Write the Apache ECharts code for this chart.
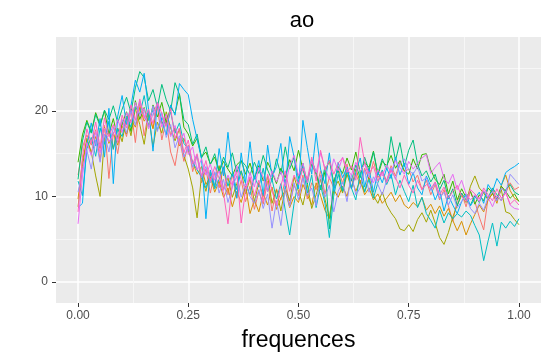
<!DOCTYPE html>
<html lang="en">
<head>
    <meta charset="UTF-8">
    <script type="text/javascript" src="https://cdn.jsdelivr.net/npm/echarts@6/dist/echarts.min.js"></script>
    <title>ao</title>
    <style type="text/css">
        html, body { margin: 0; padding: 0; background: #fff; }
        #chart { width: 549px; height: 359px; }
    </style>
</head>
<body>
    <div id="chart"></div>
    <script type="text/javascript">
        // frequence grid (shared by every curve)
        let freqs = [
            0.00, 0.01, 0.02, 0.03, 0.04, 0.05, 0.06, 0.07, 0.08, 0.09,
            0.10, 0.11, 0.12, 0.13, 0.14, 0.15, 0.16, 0.17, 0.18, 0.19,
            0.20, 0.21, 0.22, 0.23, 0.24, 0.25, 0.26, 0.27, 0.28, 0.29,
            0.30, 0.31, 0.32, 0.33, 0.34, 0.35, 0.36, 0.37, 0.38, 0.39,
            0.40, 0.41, 0.42, 0.43, 0.44, 0.45, 0.46, 0.47, 0.48, 0.49,
            0.50, 0.51, 0.52, 0.53, 0.54, 0.55, 0.56, 0.57, 0.58, 0.59,
            0.60, 0.61, 0.62, 0.63, 0.64, 0.65, 0.66, 0.67, 0.68, 0.69,
            0.70, 0.71, 0.72, 0.73, 0.74, 0.75, 0.76, 0.77, 0.78, 0.79,
            0.80, 0.81, 0.82, 0.83, 0.84, 0.85, 0.86, 0.87, 0.88, 0.89,
            0.90, 0.91, 0.92, 0.93, 0.94, 0.95, 0.96, 0.97, 0.98, 0.99,
            1.00
        ]

        let curve1 = [
            12.5, 15.8, 17.2, 16.0, 17.8, 14.2, 18.3, 12.1, 17.5, 15.0,
            18.6, 17.0, 20.2, 16.3, 21.0, 17.1, 19.8, 18.0, 20.5, 16.6,
            18.9, 15.2, 13.6, 16.8, 14.1, 16.0, 12.9, 14.8, 11.6, 13.2,
            10.4, 12.8, 11.0, 13.5, 10.2, 12.6, 9.8, 11.9, 9.4, 11.2,
            8.5, 10.6, 9.1, 11.8, 8.3, 10.9, 9.6, 12.0, 9.0, 11.3,
            10.1, 12.5, 9.7, 11.6, 10.8, 13.0, 10.3, 12.2, 11.0, 13.4,
            11.5, 13.8, 10.9, 12.6, 11.4, 13.3, 12.0, 14.1, 12.2, 13.0,
            11.8, 13.6, 12.4, 14.0, 12.9, 13.2, 11.7, 12.5, 10.8, 11.9,
            10.2, 11.4, 9.6, 10.8, 8.9, 7.1, 9.5, 10.4, 8.8, 10.6,
            9.4, 7.6, 6.1, 9.8, 10.9, 9.6, 11.2, 10.4, 11.6, 10.8,
            11.1
        ]
        let curve2 = [
            9.7, 14.2, 16.5, 15.1, 17.0, 15.6, 18.1, 16.2, 17.4, 16.0,
            18.2, 17.3, 19.0, 18.1, 20.4, 18.8, 19.6, 17.9, 20.8, 18.5,
            19.3, 17.2, 18.0, 15.9, 16.8, 15.3, 14.0, 12.6, 13.5, 11.4,
            12.3, 10.5, 11.8, 9.9, 11.0, 8.8, 10.6, 9.3, 11.2, 8.0,
            9.6, 8.2, 10.4, 9.0, 11.1, 8.5, 9.8, 10.7, 8.7, 10.0,
            9.3, 11.4, 10.2, 9.0, 11.6, 10.1, 8.4, 7.4, 10.8, 9.9,
            11.2, 10.0, 12.1, 10.6, 11.9, 10.2, 11.0, 9.6, 10.3, 9.2,
            9.8, 10.5, 9.4, 10.2, 9.0, 8.6, 9.3, 8.8, 9.9, 8.4,
            9.1, 8.0, 8.9, 7.7, 8.6, 7.2, 6.0, 7.1, 5.5, 6.8,
            7.9, 9.0, 8.2, 9.6, 10.4, 9.2, 11.3, 12.5, 10.7, 9.8,
            9.5
        ]
        let curve3 = [
            8.8, 13.5, 16.8, 15.2, 12.4, 10.0, 16.9, 17.5, 15.6, 18.0,
            16.4, 19.2, 17.1, 20.3, 18.4, 16.1, 19.5, 15.8, 18.7, 17.4,
            19.9, 18.0, 16.5, 17.9, 14.8, 13.2, 11.0, 7.5, 12.4, 10.6,
            12.9, 11.1, 13.6, 10.8, 12.2, 9.9, 11.5, 13.0, 10.3, 12.1,
            9.4, 11.6, 10.0, 12.4, 9.2, 10.8, 8.3, 11.0, 9.5, 12.3,
            10.6, 9.0, 11.4, 8.6, 10.2, 12.0, 9.7, 7.5, 10.9, 11.8,
            10.4, 12.6, 11.0, 13.2, 11.7, 10.6, 12.3, 10.1, 9.2, 10.5,
            9.0, 8.1, 7.4, 6.2, 6.0, 6.7, 5.9, 7.3, 8.1, 7.0,
            8.4, 6.9, 5.2, 4.4, 5.8, 7.6, 9.0, 10.1, 9.3, 11.2,
            12.4, 11.0, 10.4, 9.6, 10.3, 9.5, 10.8, 8.2, 8.0, 7.3,
            6.7
        ]
        let curve4 = [
            14.0, 17.2, 18.9, 17.5, 19.8, 18.4, 20.0, 17.3, 19.1, 16.8,
            18.5, 19.9, 17.6, 21.2, 19.0, 20.4, 18.2, 20.7, 19.3, 21.0,
            18.6, 20.4, 19.7, 22.0, 18.1, 17.3, 15.9, 16.8, 14.6, 15.2,
            13.8, 14.6, 12.9, 14.1, 13.2, 12.4, 13.7, 14.2, 12.6, 13.9,
            12.1, 13.6, 11.8, 14.0, 12.9, 11.5, 13.3, 12.2, 14.3, 13.0,
            15.4, 13.1, 11.9, 13.8, 12.6, 10.8, 12.9, 14.2, 11.6, 13.5,
            12.7, 14.5, 13.1, 15.2, 12.8, 14.0, 13.4, 15.3, 12.5, 14.1,
            13.6, 14.8, 13.3, 14.2, 13.0, 12.6, 14.4, 13.2, 14.9, 15.0,
            13.1, 12.0, 11.4, 12.6, 10.3, 11.8, 9.6, 10.9, 9.9, 10.6,
            9.1, 10.2, 9.5, 11.0, 10.4, 9.7, 11.2, 10.6, 9.8, 10.3,
            9.4
        ]
        let curve5 = [
            12.0, 16.5, 18.7, 17.4, 19.6, 18.2, 20.1, 19.0, 20.6, 18.6,
            20.2, 21.6, 19.8, 22.7, 24.6, 23.9, 21.2, 22.5, 20.4, 23.1,
            21.3, 20.0, 23.3, 21.9, 19.0, 18.4, 16.1, 17.3, 14.5, 15.8,
            13.7, 15.0, 12.9, 14.6, 13.4, 15.1, 12.8, 14.2, 13.6, 12.5,
            14.0, 12.7, 14.8, 13.1, 11.9, 14.4, 12.6, 15.8, 13.2, 14.6,
            12.1, 13.9, 11.4, 14.3, 12.8, 10.9, 13.5, 6.2, 11.8, 13.1,
            10.6, 12.9, 11.8, 13.7, 12.2, 14.6, 13.0, 15.2, 12.7, 14.4,
            13.1, 17.0, 14.2, 16.3, 13.5, 15.4, 16.6, 13.8, 12.4, 13.0,
            11.7, 12.6, 10.8, 11.9, 9.7, 10.9, 8.9, 10.4, 9.6, 9.0,
            10.1, 9.3, 10.6, 9.8, 11.0, 10.2, 9.5, 10.8, 11.4, 10.5,
            10.2
        ]
        let curve6 = [
            11.8, 10.1, 15.6, 16.9, 14.7, 18.0, 16.1, 18.8, 15.5, 17.9,
            17.0, 19.4, 18.1, 20.5, 19.6, 21.8, 18.9, 20.1, 17.8, 19.2,
            18.3, 19.9, 17.4, 18.6, 16.2, 15.6, 14.0, 13.1, 12.3, 11.0,
            12.6, 10.9, 12.0, 13.4, 11.2, 12.7, 10.8, 13.0, 11.5, 10.2,
            12.4, 11.1, 13.3, 10.6, 12.0, 9.7, 11.5, 8.4, 5.5, 9.2,
            11.8, 13.6, 10.4, 12.5, 8.7, 11.3, 9.2, 5.2, 10.1, 12.6,
            10.7, 13.4, 11.0, 9.6, 12.8, 10.5, 12.0, 9.8, 11.6, 13.1,
            11.4, 12.6, 10.2, 11.9, 10.6, 9.4, 11.3, 8.7, 9.9, 8.0,
            7.2, 6.3, 8.4, 6.9, 8.1, 7.4, 8.0, 7.6, 8.3, 7.8,
            6.6, 5.5, 2.5, 4.8, 6.9, 4.2, 7.0, 6.3, 7.1, 6.5,
            7.4
        ]
        let curve7 = [
            8.7, 9.2, 16.0, 18.6, 15.9, 19.1, 14.6, 20.3, 11.5, 19.4,
            21.8, 18.4, 20.6, 23.6, 22.2, 24.4, 20.1, 15.3, 21.0, 18.8,
            17.2, 20.7, 19.5, 23.2, 22.5, 21.9, 19.0, 16.7, 14.4, 7.4,
            13.1, 11.2, 15.6, 12.4, 17.5, 13.0, 9.8, 15.1, 11.6, 16.4,
            12.0, 14.2, 10.1, 16.0, 12.3, 13.5, 16.2, 10.8, 17.0, 14.6,
            10.9, 18.9, 15.7, 12.6, 17.4, 13.2, 11.5, 15.1, 10.6, 14.0,
            12.2, 13.4, 10.9, 12.8, 14.5, 11.1, 13.2, 10.5, 12.9, 11.6,
            13.3, 12.1, 14.6, 12.5, 13.9, 11.4, 12.8, 11.0, 10.2, 12.4,
            11.2, 9.6, 10.8, 8.3, 10.1, 9.0, 8.0, 9.4, 10.3, 8.9,
            9.8, 10.5, 9.2, 11.4, 10.6, 12.1, 11.3, 12.8, 13.2, 13.5,
            13.9
        ]
        let curve8 = [
            10.5, 13.1, 15.4, 13.2, 16.6, 14.0, 17.3, 15.2, 18.1, 16.7,
            19.0, 17.4, 20.1, 18.3, 21.2, 19.5, 18.2, 20.6, 17.6, 19.8,
            16.9, 18.4, 15.7, 17.1, 14.6, 15.9, 13.4, 14.8, 12.2, 13.5,
            11.6, 12.9, 10.4, 12.0, 9.3, 11.1, 12.4, 9.9, 11.5, 10.0,
            9.2, 10.8, 8.6, 10.3, 6.3, 9.5, 6.6, 10.9, 8.8, 11.6,
            9.6, 12.2, 10.1, 11.0, 8.9, 12.5, 9.9, 11.3, 8.2, 10.6,
            11.7, 9.4, 12.6, 10.2, 11.0, 13.1, 10.5, 12.3, 11.4, 10.2,
            11.9, 13.3, 12.0, 13.8, 14.4, 13.1, 12.6, 13.5, 11.8, 12.2,
            10.7, 11.6, 9.8, 10.5, 9.0, 10.2, 8.7, 9.4, 10.1, 8.6,
            8.0, 9.2, 8.4, 9.9, 10.6, 9.5, 11.0, 10.4, 12.6, 12.0,
            11.4
        ]
        let curve9 = [
            6.8, 12.4, 16.3, 14.8, 17.6, 15.1, 18.0, 16.4, 17.2, 19.0,
            17.5, 19.8, 18.6, 21.0, 19.4, 20.3, 17.9, 19.7, 20.9, 18.1,
            19.6, 17.0, 18.3, 16.1, 17.4, 14.9, 15.8, 13.1, 14.4, 12.5,
            13.8, 11.9, 13.0, 10.7, 12.5, 11.3, 13.6, 12.0, 10.9, 12.8,
            11.1, 13.4, 12.2, 10.6, 13.0, 11.7, 12.9, 11.2, 13.6, 14.8,
            12.4, 13.9, 11.6, 14.2, 12.8, 15.1, 13.3, 12.0, 14.4, 13.0,
            14.6, 13.2, 12.5, 14.0, 12.9, 13.8, 12.3, 11.6, 13.1, 12.4,
            13.7, 12.8, 14.2, 13.4, 12.6, 14.1, 13.2, 13.9, 14.5, 14.9,
            12.7, 13.4, 14.0, 12.1, 11.5, 12.6, 10.8, 11.9, 10.3, 9.6,
            10.2, 9.4, 10.7, 9.9, 8.8, 10.1, 9.5, 10.6, 9.0, 8.6,
            8.5
        ]
        let curve10 = [
            8.2, 14.6, 17.9, 16.2, 18.7, 15.8, 19.2, 17.0, 18.4, 16.3,
            19.5, 18.0, 20.7, 18.9, 21.4, 19.1, 20.2, 18.5, 21.0, 19.7,
            18.2, 20.3, 16.8, 18.0, 15.1, 16.6, 13.8, 15.0, 12.4, 14.2,
            11.8, 13.5, 12.1, 10.4, 6.8, 11.6, 12.9, 6.9, 10.8, 12.3,
            10.1, 11.9, 9.4, 12.6, 10.7, 8.9, 11.3, 13.0, 10.6, 12.5,
            11.4, 13.3, 12.0, 14.6, 11.8, 15.4, 13.1, 14.2, 12.6, 13.9,
            14.5, 12.8, 13.6, 11.9, 16.9, 14.0, 12.7, 13.5, 11.8, 12.9,
            11.6, 13.1, 12.2, 11.0, 12.5, 11.3, 10.4, 11.9, 10.8, 11.4,
            10.9, 11.7, 10.2, 11.1, 9.8, 10.6, 11.3, 10.0, 9.4, 10.8,
            10.3, 9.7, 11.0, 10.2, 9.5, 10.9, 9.8, 10.4, 9.1, 9.6,
            9.0
        ]

        let curves = [curve1, curve2, curve3, curve4, curve5, curve6, curve7, curve8, curve9, curve10]
        let colors = ['#F8766D', '#D89000', '#A3A500', '#39B600', '#00BF7D',
                      '#00BFC4', '#00B0F6', '#9590FF', '#E76BF3', '#FF62BC']
        let xTicks = [0, 0.25, 0.5, 0.75, 1]
        let xMinor = [0.125, 0.375, 0.625, 0.875]
        let yTicks = [0, 10, 20]
        let yMinor = [5, 15, 25]

        let font = 'Liberation Sans, Arial, sans-serif'

        var chartDom = document.getElementById('chart');
        var myChart = echarts.init(chartDom, null, { renderer: 'canvas' });

        let series = curves.map(function (ys, k) {
            return {
                type: 'line',
                xAxisIndex: 0,
                yAxisIndex: 0,
                data: ys.map(function (y, i) { return [freqs[i], y] }),
                showSymbol: false,
                symbol: 'none',
                lineStyle: { color: colors[k], width: 1 },
                itemStyle: { color: colors[k] },
                silent: true
            }
        })

        // hidden helper axes only carry the minor grid lines
        function minorAxis(lo, hi, values, pos) {
            return {
                type: 'value',
                min: lo, max: hi,
                position: pos,
                axisLine: { show: false, onZero: false },
                axisTick: { show: false, customValues: values },
                axisLabel: { show: false, customValues: values },
                splitLine: { show: true, lineStyle: { color: '#F6F6F6', width: 1 } }
            }
        }

        var option = {
            animation: false,
            backgroundColor: '#ffffff',
            title: {
                text: 'ao',
                left: 297,
                textAlign: 'center',
                top: 5,
                textStyle: { fontFamily: font, fontSize: 22, fontWeight: 'normal', color: '#000000' }
            },
            grid: {
                left: 56, top: 37, width: 485, height: 266,
                show: true, backgroundColor: '#EBEBEB', borderWidth: 0
            },
            xAxis: [minorAxis(-0.05, 1.05, xMinor, 'bottom'), {
                type: 'value',
                min: -0.05, max: 1.05,
                position: 'bottom',
                name: 'frequences',
                nameLocation: 'middle',
                nameGap: 26,
                nameTextStyle: { fontFamily: font, fontSize: 23, color: '#000000' },
                axisLine: { show: false, onZero: false },
                axisTick: { show: true, length: 4, customValues: xTicks, lineStyle: { color: '#333333', width: 1 } },
                axisLabel: {
                    customValues: xTicks, margin: 7,
                    fontFamily: font, fontSize: 12, color: '#4D4D4D',
                    formatter: function (v) { return v.toFixed(2) }
                },
                splitLine: { show: true, lineStyle: { color: '#ffffff', width: 1.5 } }
            }],
            yAxis: [minorAxis(-2.45, 28.64, yMinor, 'left'), {
                type: 'value',
                min: -2.45, max: 28.64,
                position: 'left',
                axisLine: { show: false, onZero: false },
                axisTick: { show: true, length: 4, customValues: yTicks, lineStyle: { color: '#333333', width: 1 } },
                axisLabel: {
                    customValues: yTicks, margin: 8,
                    fontFamily: font, fontSize: 12, color: '#4D4D4D'
                },
                splitLine: { show: true, lineStyle: { color: '#ffffff', width: 1.5 } }
            }],
            series: series
        };

        option && myChart.setOption(option);
    </script>
</body>
</html>
